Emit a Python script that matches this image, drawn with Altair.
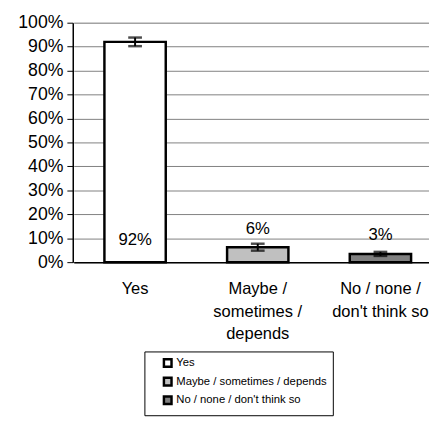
import altair as alt
import pandas as pd

categories = ["Yes", "Maybe / sometimes / depends", "No / none / don't think so"]
axis_labels = ["Yes", "Maybe /|sometimes /|depends", "No / none /|don't think so"]
values = [92.0, 6.2, 3.4]
err_low = [90.2, 4.8, 2.6]
err_high = [93.8, 7.7, 4.3]
value_labels = ["92%", "6%", "3%"]
label_pos = [9.4, 14.0, 11.3]
colors = ["#ffffff", "#c0c0c0", "#808080"]

df = pd.DataFrame({
    "cat": categories,
    "axlab": axis_labels,
    "value": values,
    "lo": err_low,
    "hi": err_high,
    "lab": value_labels,
    "lpos": label_pos,
})

font = "Liberation Sans"

x_scale = alt.Scale(paddingInner=0.5, paddingOuter=0.25, range=[1, 376])
x_axis = alt.Axis(
    labelExpr="split(datum.label, '|')",
    labelAngle=0,
    labelFont=font,
    labelFontSize=16.8,
    labelColor="black",
    labelLineHeight=23,
    labelPadding=19,
    ticks=False,
    domainColor="black",
    domainWidth=1.5,
    labelLimit=200,
    labelOverlap=False,
)
y_scale = alt.Scale(domain=[0, 100], nice=False)
y_axis = alt.Axis(
    values=list(range(0, 101, 10)),
    labelExpr="datum.value + '%'",
    labelFont=font,
    labelFontSize=18,
    labelColor="black",
    labelOverlap=False,
    tickSize=6,
    tickColor="black",
    labelPadding=4,
    domainColor="black",
    domainWidth=1.5,
    gridColor="#808080",
    gridWidth=1,
    title=None,
)


def X():
    return alt.X("axlab:N", sort=axis_labels, title=None, scale=x_scale, axis=x_axis)


def Y(field):
    return alt.Y(field, scale=y_scale, axis=y_axis, title=None)


base = alt.Chart(df)

bars = base.mark_bar(stroke="black", strokeWidth=2.5).encode(
    x=X(),
    y=Y("value:Q"),
    fill=alt.Fill(
        "cat:N",
        sort=categories,
        scale=alt.Scale(domain=categories, range=colors),
        legend=alt.Legend(
            title=None,
            orient="none",
            legendX=73,
            legendY=335,
            direction="vertical",
            strokeColor="black",
            fillColor="white",
            padding=6,
            labelFont=font,
            labelFontSize=11.5,
            labelColor="black",
            labelOffset=3,
            symbolOffset=12,
            symbolType="square",
            symbolSize=60,
            symbolStrokeColor="black",
            symbolStrokeWidth=2.5,
            rowPadding=0,
            labelLimit=300,
        ),
    ),
)

rules = base.mark_rule(color="black", strokeWidth=2).encode(
    x=X(),
    y=Y("lo:Q"),
    y2="hi:Q",
)
caps_lo = base.mark_tick(color="black", thickness=2.5, size=14).encode(
    x=X(),
    y=Y("lo:Q"),
)
caps_hi = base.mark_tick(color="black", thickness=2.5, size=14).encode(
    x=X(),
    y=Y("hi:Q"),
)
texts = base.mark_text(font=font, fontSize=17, color="black").encode(
    x=X(),
    y=Y("lpos:Q"),
    text="lab:N",
)

chart = alt.layer(bars, rules, caps_lo, caps_hi, texts).properties(
    width=363,
    height=244,
    autosize=alt.AutoSizeParams(type="none"),
    padding={"left": 66, "top": 11, "right": 0, "bottom": 164},
).configure_view(stroke=None).configure(background="white")

chart.save("out.html", embed_options={"renderer": "svg", "actions": False})
